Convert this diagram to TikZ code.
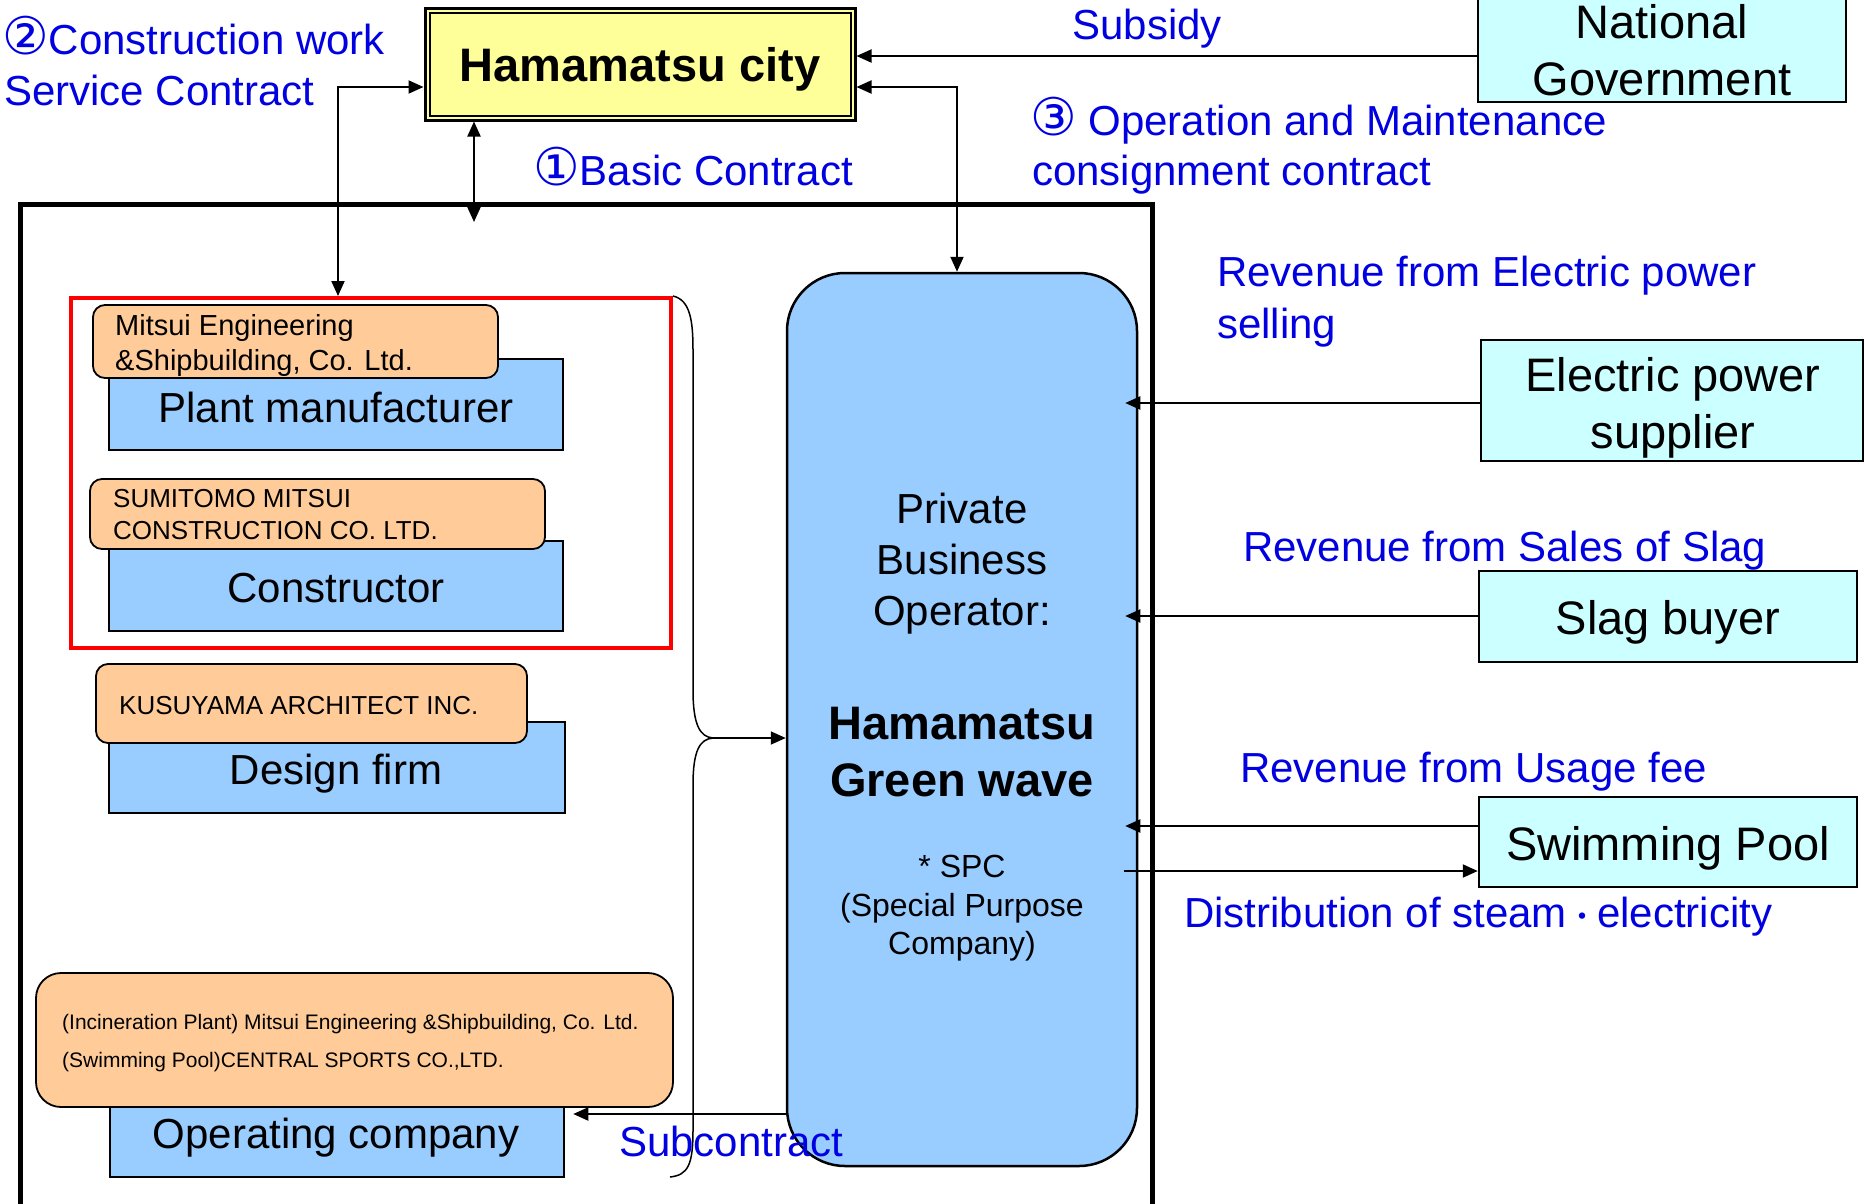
\documentclass[tikz,border=0pt]{standalone}
\usepackage{fontspec}
\setmainfont{Liberation Sans}
\newfontfamily\dejavu{DejaVu Sans}
\newfontfamily\cjk{Noto Sans CJK JP}
\usetikzlibrary{arrows.meta,calc}
\definecolor{lblue}{HTML}{99CCFF}
\definecolor{orng}{HTML}{FFCC99}
\definecolor{lcyan}{HTML}{CCFFFF}
\definecolor{lyel}{HTML}{FFFF99}
\definecolor{txtblue}{RGB}{0,0,225}
\newcommand{\fs}[1]{\fontsize{#1}{#1}\selectfont}
\newcommand{\circd}[1]{{\dejavu\fontsize{52}{52}\selectfont #1}}
\begin{document}
\begin{tikzpicture}[x=1pt,y=-1pt,
  bluebox/.style={draw=black, line width=2.5pt, fill=lblue, rectangle, inner sep=0pt},
  orgbox/.style={draw=black, line width=1.8pt, fill=orng, rounded corners=12pt, inner sep=0pt},
  cybox/.style={draw=black, line width=2.5pt, fill=lcyan, inner sep=0pt},
  lab/.style={inner sep=0pt, anchor=base west, text=txtblue, font=\fs{42}},
  blk/.style={inner sep=0pt, anchor=base, font=\fs{42}},
  big/.style={inner sep=0pt, anchor=base, font=\fs{47}},
  otxt/.style={inner sep=0pt, anchor=base west},
  arr/.style={line width=2pt, -{Triangle[length=15pt,width=13pt]}},
  darr/.style={line width=2pt, {Triangle[length=15pt,width=13pt]}-{Triangle[length=15pt,width=13pt]}},
]
\useasboundingbox (0,0) rectangle (1864,1203);

% big frame and red group
\node[draw, line width=5pt, minimum width=1132pt, minimum height=1030pt, inner sep=0pt] (frame) at (586,719) {};
\node[draw=red, line width=4pt, minimum width=600pt, minimum height=350pt, inner sep=0pt] (redbox) at (371,473) {};

% blue role boxes
\node[bluebox, minimum width=454pt, minimum height=91pt] (plant) at (336,404.5) {};
\node[bluebox, minimum width=454pt, minimum height=90pt] (constr) at (336,586) {};
\node[bluebox, minimum width=456pt, minimum height=91pt] (design) at (337,767.5) {};
\node[bluebox, minimum width=454pt, minimum height=87pt] (opco) at (337,1133.5) {};

% orange company boxes
\node[orgbox, minimum width=405pt, minimum height=73pt] (mitsui) at (295.5,341.5) {};
\node[orgbox, minimum width=455pt, minimum height=70pt] (sumi) at (317.5,514) {};
\node[orgbox, minimum width=431pt, minimum height=79pt] (kusu) at (311.5,703.5) {};
\node[orgbox, rounded corners=25pt, minimum width=637pt, minimum height=134pt] (oporg) at (354.5,1040) {};

% SPC
\node[draw, line width=2.5pt, fill=lblue, rounded corners=58pt, minimum width=350pt, minimum height=893pt, inner sep=0pt] (spc) at (962,719.5) {};

% Hamamatsu city
\node[draw, line width=3pt, fill=lyel, minimum width=430pt, minimum height=112pt, inner sep=0pt] (city) at (640,64) {};
\draw[line width=2pt] ([shift={(6,6)}]city.north west) rectangle ([shift={(-6,-6)}]city.south east);

% right boxes
\node[cybox, minimum width=368pt, minimum height=112pt] (natgov) at (1662,46) {};
\node[cybox, minimum width=382pt, minimum height=121pt] (eps) at (1672,400.5) {};
\node[cybox, minimum width=378pt, minimum height=91pt] (slag) at (1668,616.5) {};
\node[cybox, minimum width=378pt, minimum height=90pt] (pool) at (1668,842) {};

% connectors
\draw[arr] (natgov.west |- 0,56) -- (city.east |- 0,56);
\draw[darr] (city.east |- 0,87) -- (957,87) -- (spc.north -| 957,0);
\draw[darr] (redbox.north -| 338,0) -- (338,87) -- (city.west |- 0,87);
\coordinate (basicend) at (474,222);
\draw[darr] (city.south -| basicend) -- (basicend);
\draw[line width=1.5pt] (redbox.north east) .. controls (690,300) and (693,320) .. (693,350) -- (693,690)
  .. controls (693,725) and (700,737) .. (713,738) coordinate (bracetip)
  .. controls (700,739) and (693,750) .. (693,785) -- (693,1130)
  .. controls (693,1165) and (688,1175) .. (670,1177);
\draw[arr, line width=1.8pt] (bracetip) -- (spc.west |- bracetip);
\draw[arr, shorten >=8pt] (spc.west |- 0,1114) -- (opco.east |- 0,1114);
\draw[arr, shorten >=-13pt] (eps.west |- 0,403) -- (spc.east |- 0,403);
\draw[arr, shorten >=-13pt] (slag.west |- 0,616) -- (spc.east |- 0,616);
\draw[arr, shorten >=-13pt] (pool.west |- 0,826) -- (spc.east |- 0,826);
\draw[arr, shorten <=-14pt] (spc.east |- 0,871) -- (pool.west |- 0,871);

% box texts
\node[big, font=\fs{47}\bfseries] (citytxt) at (640,81) {Hamamatsu city};
\node[big] (ng1) at (1662,38) {National};
\node[big] (ng2) at (1662,95) {Government};
\node[big] (eps1) at (1673,391) {Electric power};
\node[big] (eps2) at (1673,448) {supplier};
\node[big] (slagtxt) at (1668,634) {Slag buyer};
\node[big] (pooltxt) at (1668,860) {Swimming Pool};

\node[blk] (planttxt) at (336,422) {Plant manufacturer};
\node[blk] (constrtxt) at (336,602) {Constructor};
\node[blk] (designtxt) at (336,784) {Design firm};
\node[blk] (opcotxt) at (336,1148) {Operating company};

\node[otxt, font=\fs{29}] (m1) at (115,335) {Mitsui Engineering};
\node[otxt, font=\fs{29}] (m2) at (115,370) {\&Shipbuilding, Co. Ltd.};
\node[otxt, font=\fs{26}] (s1) at (113,507) {SUMITOMO MITSUI};
\node[otxt, font=\fs{26}] (s2) at (113,539) {CONSTRUCTION CO. LTD.};
\node[otxt, font=\fs{26}] (k1) at (119,714) {KUSUYAMA ARCHITECT INC.};
\node[otxt, font=\fs{21}] (o1) at (62,1029) {(Incineration Plant) Mitsui Engineering \&Shipbuilding, Co. Ltd.};
\node[otxt, font=\fs{21}] (o2) at (62,1067) {(Swimming Pool)CENTRAL SPORTS CO.,LTD.};

\node[blk] (spc1) at (962,523) {Private};
\node[blk] (spc2) at (962,574) {Business};
\node[blk] (spc3) at (962,625) {Operator:};
\node[big, font=\fs{47}\bfseries] (spc4) at (962,739) {Hamamatsu};
\node[big, font=\fs{47}\bfseries] (spc5) at (962,796) {Green wave};
\node[blk, font=\fs{32}] (spc6) at (962,877) {* SPC};
\node[blk, font=\fs{32}] (spc7) at (962,916) {(Special Purpose};
\node[blk, font=\fs{32}] (spc8) at (962,954) {Company)};

% blue labels
\node[lab] (l1) at (2,54) {\circd{②}Construction work};
\node[lab] (l2) at (4,105) {Service Contract};
\node[lab, anchor=base] (l3) at (1147,39) {Subsidy};
\node[lab] (l4) at (533,185) {\circd{①}Basic Contract};
\node[lab] (l5) at (1030,135) {\circd{③} Operation and Maintenance};
\node[lab] (l6) at (1032,185) {consignment contract};
\node[lab] (l7) at (1217,286) {Revenue from Electric power};
\node[lab] (l8) at (1217,338) {selling};
\node[lab] (l9) at (1243,561) {Revenue from Sales of Slag};
\node[lab] (l10) at (1240,782) {Revenue from Usage fee};
\node[lab] (l11) at (1184,927) {Distribution of steam{\cjk\fontsize{30}{30}\selectfont ・}electricity};
\node[lab] (l12) at (619,1156) {Subcontract};
\end{tikzpicture}
\end{document}
